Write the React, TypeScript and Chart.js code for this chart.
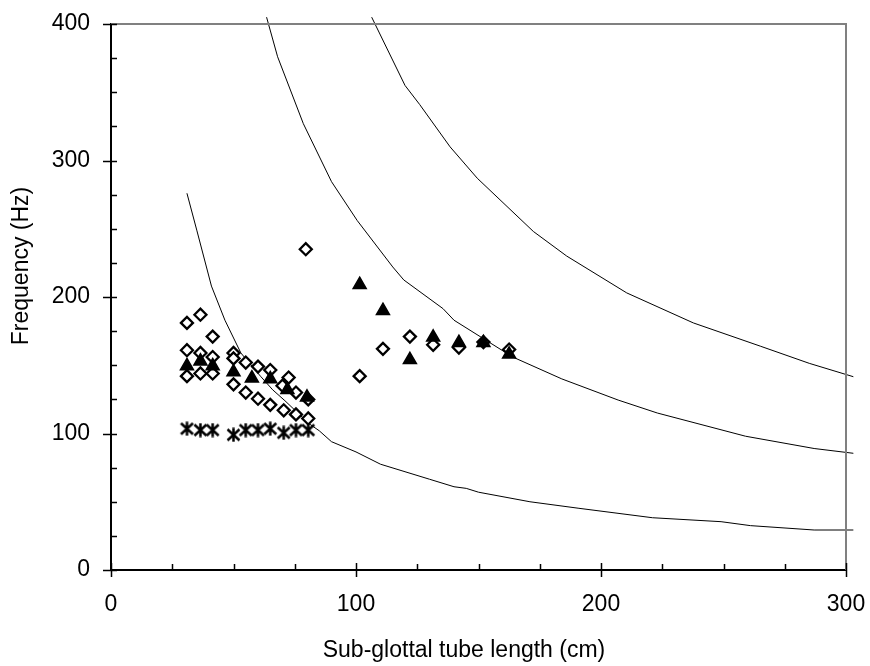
import React, { useEffect, useRef } from "react";
import { Chart, registerables } from "chart.js";

Chart.register(...registerables);

// ---- axis ticks ----
const xMajorTicks = [0, 100, 200, 300];
const xMinorTicks = [25, 50, 75, 125, 150, 175, 225, 250, 275];
const yMajorTicks = [0, 100, 200, 300, 400];
const yMinorTicks = [25, 50, 75, 125, 150, 175, 225, 250, 275, 325, 350, 375];

const xTitle = "Sub-glottal tube length (cm)";
const yTitle = "Frequency (Hz)";

// ---- open diamonds ----
const diamondX = [31, 36.5, 41.5, 31, 36.5, 41.5, 31, 36.5, 41.5, 50, 50, 50, 55, 55, 60, 60, 65, 65, 72.5, 70, 70.5, 75.5, 75.5, 80.5, 80.5, 79.5, 101.5, 111, 122, 131.5, 142, 152, 162.5];
const diamondY = [181, 187, 171, 161, 159, 156, 142, 144, 144, 159, 155, 136, 152, 130, 149, 125.5, 146.5, 121, 141, 135, 117, 130, 114, 125, 111, 235, 142, 162, 171, 165, 163, 167, 161.5];

// ---- filled triangles ----
const triangleX = [31, 36.5, 41.5, 50, 57.5, 65, 72, 80, 101.5, 111, 122, 131.5, 142, 152, 162.5];
const triangleY = [149.5, 153, 149.5, 145, 140.5, 140, 132, 126.5, 209, 190, 154, 170.5, 166.5, 166.5, 158];

// ---- asterisks ----
const starX = [31, 36.5, 41.5, 50, 55, 60, 65, 70.5, 75.5, 80.5];
const starY = [103.5, 102.5, 102.5, 99, 102.5, 102.5, 103.5, 100.5, 102.5, 102.5];

// ---- resonance curves ----
const curve1X = [31, 35, 41, 46.5, 53, 61, 66, 71, 81, 85, 90, 100, 110, 130, 140, 145, 150, 171, 191, 221, 249, 261, 287, 303];
const curve1Y = [276, 249, 208, 183, 159, 142, 132, 124, 107, 102, 94, 86.5, 77.5, 66.5, 61, 59.8, 57, 50, 45.2, 38.3, 35.4, 32.5, 29.3, 29.3];
const curve2X = [63.5, 68, 78.5, 90, 100.5, 115, 119.5, 135.5, 140, 164, 184, 207, 223, 259, 287, 303];
const curve2Y = [405, 376, 327, 284.5, 256, 222, 212.5, 191.5, 183, 156, 140, 124.5, 115, 98, 89, 85.5];
const curve3X = [106.4, 120, 126, 138.4, 149.5, 172.4, 186, 210.5, 237.7, 265, 285, 303];
const curve3Y = [405, 355, 341, 310, 287, 248, 230, 203, 181, 164, 151.4, 141.6];

const FONT = "'Liberation Sans', Arial, sans-serif";
const FONT_SIZE = 23;

function pts(xs: number[], ys: number[]) {
  return xs.map((x, i) => ({ x, y: ys[i] }));
}

function makeAsterisk(): HTMLCanvasElement {
  const s = 15;
  const c = document.createElement("canvas");
  c.width = s;
  c.height = s;
  const g = c.getContext("2d")!;
  g.strokeStyle = "#000";
  g.lineWidth = 2.5;
  g.lineCap = "butt";
  g.beginPath();
  g.moveTo(s / 2, 0.5);
  g.lineTo(s / 2, s - 0.5);
  g.moveTo(1.5, 2);
  g.lineTo(s - 1.5, s - 2);
  g.moveTo(s - 1.5, 2);
  g.lineTo(1.5, s - 2);
  g.stroke();
  return c;
}

const framePlugin = {
  id: "frameTicks",
  afterDraw(chart: any) {
    const { ctx, chartArea: a, scales } = chart;
    const xs = scales.x;
    const ys = scales.y;
    ctx.save();
    // top and right frame (gray)
    ctx.strokeStyle = "#808080";
    ctx.lineWidth = 2;
    ctx.beginPath();
    ctx.moveTo(a.left, a.top);
    ctx.lineTo(a.right, a.top);
    ctx.lineTo(a.right, a.bottom);
    ctx.stroke();
    // ticks
    ctx.strokeStyle = "#000";
    ctx.lineWidth = 1.5;
    ctx.beginPath();
    yMajorTicks.forEach((v) => {
      const y = Math.round(ys.getPixelForValue(v)) + 0.5;
      ctx.moveTo(a.left - 8, y);
      ctx.lineTo(a.left + 6, y);
    });
    yMinorTicks.forEach((v) => {
      const y = Math.round(ys.getPixelForValue(v)) + 0.5;
      ctx.moveTo(a.left, y);
      ctx.lineTo(a.left + 6, y);
    });
    xMajorTicks.forEach((v) => {
      const x = Math.round(xs.getPixelForValue(v)) + 0.5;
      ctx.moveTo(x, a.bottom - 7);
      ctx.lineTo(x, a.bottom + 7);
    });
    xMinorTicks.forEach((v) => {
      const x = Math.round(xs.getPixelForValue(v)) + 0.5;
      ctx.moveTo(x, a.bottom - 6);
      ctx.lineTo(x, a.bottom);
    });
    ctx.stroke();
    // axis titles
    ctx.fillStyle = "#000";
    ctx.font = `${FONT_SIZE}px ${FONT}`;
    ctx.textAlign = "center";
    ctx.textBaseline = "middle";
    ctx.fillText(xTitle, 464, 651);
    ctx.translate(22, 266);
    ctx.rotate(-Math.PI / 2);
    ctx.fillText(yTitle, 0, 0);
    ctx.restore();
  },
};

export default function App() {
  const ref = useRef<HTMLCanvasElement>(null);

  useEffect(() => {
    document.body.style.margin = "0";
    const canvas = ref.current;
    if (!canvas) return;
    const star = makeAsterisk();
    const lineDs = (xs: number[], ys: number[]) => ({
      data: pts(xs, ys),
      showLine: true,
      borderColor: "#000",
      borderWidth: 1,
      pointRadius: 0,
      tension: 0,
      fill: false,
      clip: false as any,
    });
    const chart = new Chart(canvas, {
      type: "scatter",
      data: {
        datasets: [
          {
            data: pts(triangleX, triangleY),
            pointStyle: "triangle",
            pointRadius: 7.5,
            backgroundColor: "#000",
            borderColor: "#000",
            borderWidth: 1.5,
          },
          {
            data: pts(starX, starY),
            pointStyle: star as any,
            pointRadius: 7,
            backgroundColor: "#000",
            borderColor: "#000",
          },
          {
            data: pts(diamondX, diamondY),
            pointStyle: "rectRot",
            pointRadius: 6,
            backgroundColor: "#fff",
            borderColor: "#000",
            borderWidth: 2.3,
          },
          lineDs(curve1X, curve1Y),
          lineDs(curve2X, curve2Y),
          lineDs(curve3X, curve3Y),
        ] as any,
      },
      options: {
        responsive: false,
        animation: false,
        events: [],
        layout: { padding: { top: 24, right: 24, left: 0, bottom: 0 } },
        plugins: {
          legend: { display: false },
          tooltip: { enabled: false },
        },
        scales: {
          x: {
            type: "linear",
            min: 0,
            max: 300,
            afterBuildTicks: (s: any) => {
              s.ticks = xMajorTicks.map((v) => ({ value: v }));
            },
            afterFit: (s: any) => {
              s.height = 96;
              s.paddingLeft = 0;
              s.paddingRight = 0;
            },
            ticks: {
              color: "#000",
              font: { family: FONT, size: FONT_SIZE },
              padding: 21,
              maxRotation: 0,
            },
            grid: { display: false, drawTicks: false },
            border: { display: true, color: "#000", width: 2 },
          },
          y: {
            type: "linear",
            min: 0,
            max: 400,
            afterBuildTicks: (s: any) => {
              s.ticks = yMajorTicks.map((v) => ({ value: v }));
            },
            afterFit: (s: any) => {
              s.width = 111;
              s.paddingTop = 0;
              s.paddingBottom = 0;
            },
            ticks: {
              color: "#000",
              font: { family: FONT, size: FONT_SIZE },
              padding: 21,
            },
            grid: { display: false, drawTicks: false },
            border: { display: true, color: "#000", width: 2 },
          },
        },
      },
      plugins: [framePlugin],
    });
    return () => chart.destroy();
  }, []);

  return (
    <div style={{ width: 870, height: 666 }}>
      <canvas ref={ref} width={870} height={666} style={{ display: "block" }} />
    </div>
  );
}
